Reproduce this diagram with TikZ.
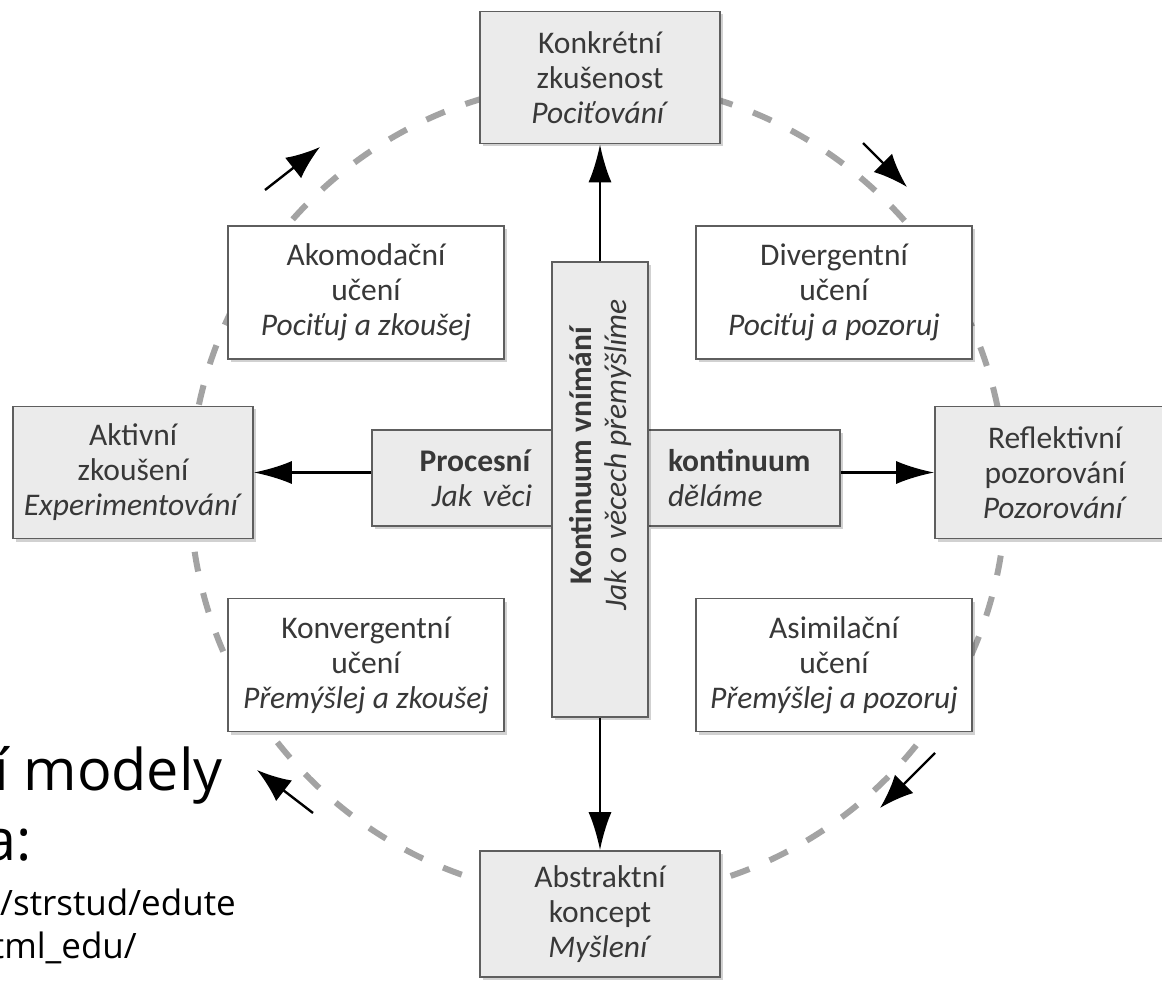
\documentclass[tikz,border=0pt]{standalone}
\usepackage{fontspec}
\setmainfont{Carlito}
\newfontfamily\slidefont{Open Sans}
\usepackage{tikz}
\usetikzlibrary{positioning, arrows.meta, shadows}
\definecolor{boxgray}{HTML}{EBEBEB}
\definecolor{framegray}{HTML}{5E5E5E}
\definecolor{textgray}{HTML}{383838}
\definecolor{dashgray}{HTML}{A3A3A3}
\newcommand{\boxfont}{\fontsize{31.5}{35}\selectfont}

\begin{document}
\begin{tikzpicture}[x=1pt, y=-1pt,
    basebox/.style={draw=framegray, line width=1.6pt, text=textgray, align=center, inner sep=0pt, font=\boxfont,
        drop shadow={shadow xshift=3pt, shadow yshift=-3pt, opacity=0.18, fill=black}},
    stage/.style={basebox, fill=boxgray, minimum width=240pt, minimum height=132pt},
    learnbox/.style={basebox, fill=white, minimum width=276pt, minimum height=133pt},
    axisbox/.style={basebox, fill=boxgray, minimum height=96pt},
    mainarrow/.style={-{Latex[length=38pt, width=23pt]}, line width=2.5pt},
    cyclearrow/.style={-{Latex[length=34pt, width=26pt]}, line width=2.4pt},
    cycledash/.style={dashgray, line width=6pt, dash pattern=on 20pt off 22pt},
    slidetext/.style={inner sep=0pt, anchor=base east, font=\slidefont}]
    \useasboundingbox (0,0) rectangle (1162,981);

    % Cycle behind the boxes
    \coordinate (mid) at (598,490);
    \draw[cycledash] (mid) circle[radius=408pt];

    % Slide text left behind the picture
    \node[slidetext, font=\slidefont\fontsize{57.5}{70}\selectfont] (modely) at (223,790) {í modely};
    \node[slidetext, font=\slidefont\fontsize{57.5}{70}\selectfont] (dvojtecka) at (32,860) {a:};
    \node[slidetext, font=\slidefont\fontsize{35}{43}\selectfont] (url1) at (236,915) {/strstud/edute};
    \node[slidetext, font=\slidefont\fontsize{35}{43}\selectfont] (url2) at (137,958) {tml\_edu/};

    % Four stages
    \node[stage] (konkret) at (600,77.5) {Konkrétní\\zkušenost\\\textit{Pociťování}};
    \node[stage] (aktiv) at (133,472.5) {Aktivní\\zkoušení\\\textit{Experimentování}};
    \node[stage] (reflekt) at (1055,472.5) {Reflektivní\\pozorování\\\textit{Pozorování}};
    \node[stage, minimum height=126pt] (abstrakt) at (600,914) {Abstraktní\\koncept\\\textit{Myšlení}};

    % Learning styles
    \node[learnbox] (akomod) at (366,292.5) {Akomodační\\učení\\\textit{Pociťuj a zkoušej}};
    \node[learnbox] (diverg) at (834,292.5) {Divergentní\\učení\\\textit{Pociťuj a pozoruj}};
    \node[learnbox] (konverg) at (366,665) {Konvergentní\\učení\\\textit{Přemýšlej a zkoušej}};
    \node[learnbox] (asimil) at (834,665) {Asimilační\\učení\\\textit{Přemýšlej a pozoruj}};

    % Processing continuum
    \node[axisbox, minimum width=180pt, text width=140pt, align=right] (procesni) at (462,478)
        {\textbf{Procesní}\\\textit{Jak věci}};
    \node[axisbox, minimum width=192pt, text width=152pt, align=left] (kontin) at (744,478)
        {\textbf{kontinuum}\\\textit{děláme}};

    % Perception continuum
    \node[axisbox, minimum width=96pt, minimum height=455pt] (kontvnim) at (600,489.5) {};
    \node[rotate=90, align=center, text=textgray, font=\boxfont, inner sep=0pt] (kvtext) at (600,455)
        {\textbf{Kontinuum vnímání}\\\textit{Jak o věcech přemýšlíme}};

    \draw[mainarrow] (kontvnim) -- (konkret);
    \draw[mainarrow] (kontvnim) -- (abstrakt);
    \draw[mainarrow] (procesni.west |- aktiv.east) -- (aktiv.east);
    \draw[mainarrow] (kontin.east |- reflekt.west) -- (reflekt.west);

    % Direction of the cycle
    \coordinate (tlA) at (265,190);  \coordinate (tlB) at (320,147);
    \coordinate (trA) at (863,143);  \coordinate (trB) at (907,187);
    \coordinate (brA) at (935,753);  \coordinate (brB) at (880,808);
    \coordinate (blA) at (313,813);  \coordinate (blB) at (257,770);
    \draw[cyclearrow] (tlA) -- (tlB);
    \draw[cyclearrow] (trA) -- (trB);
    \draw[cyclearrow] (brA) -- (brB);
    \draw[cyclearrow] (blA) -- (blB);
\end{tikzpicture}
\end{document}
